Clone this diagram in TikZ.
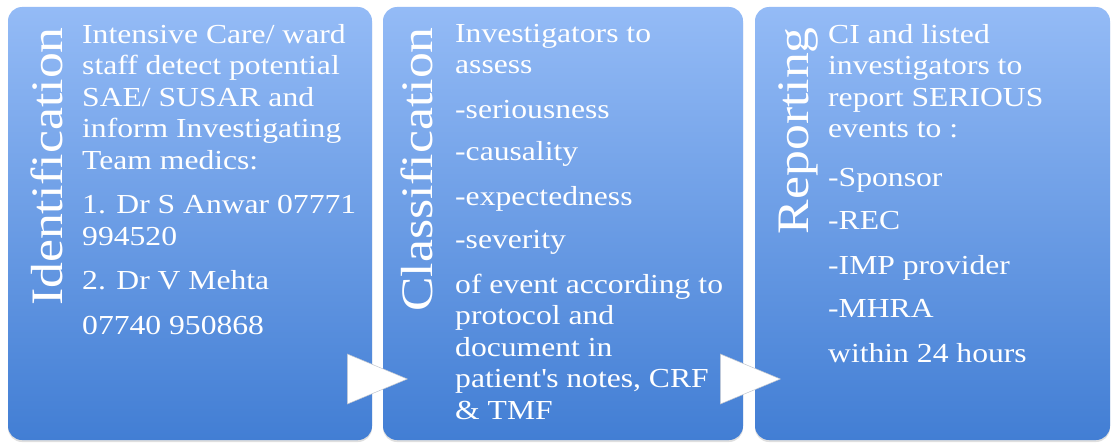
\documentclass[tikz,border=0pt]{standalone}
\usepackage{fontspec}
\setmainfont[FakeStretch=1.15]{Liberation Serif}
\usetikzlibrary{shapes.geometric,shadows}
\begin{document}
\begin{tikzpicture}[x=1pt,y=-1pt]
  \definecolor{boxtop}{RGB}{148,187,246}
  \definecolor{boxbot}{RGB}{66,126,212}
  \definecolor{arrowedge}{RGB}{190,196,206}
  \tikzset{
    stage/.style={rounded corners=14pt,top color=boxtop,bottom color=boxbot,minimum height=433pt,inner sep=0pt,
      drop shadow={shadow xshift=0pt,shadow yshift=-2pt,opacity=0.25}},
    title/.style={rotate=90,anchor=base east,inner sep=0pt,text=white,font=\fontsize{45}{54}\selectfont},
    body/.style={anchor=north west,inner sep=0pt,align=left,text=white,font=\fontsize{27.5}{31.5}\selectfont},
    chevron/.style={isosceles triangle,isosceles triangle stretches,shape border rotate=0,minimum width=50pt,
      minimum height=60pt,anchor=apex,inner sep=0pt,fill=white,draw=arrowedge,line width=0.5pt}
  }
  \useasboundingbox (0,0) rectangle (1112,444);
  \node [stage,minimum width=364pt] (id) at (190,223.5) {};
  \node [stage,minimum width=360pt] (cls) at (563,223.5) {};
  \node [stage,minimum width=355pt] (rep) at (932.5,223.5) {};
  \node [chevron] (arr1) at (408,379) {};
  \node [chevron] (arr2) at (781,379) {};
  \node [title] (idtitle) at (62,27) {Identification};
  \node [title] (clstitle) at (432,27) {Classification};
  \node [title] (reptitle) at (808,27) {Reporting};
  \node [body] (idtext) at (82,24) {Intensive Care/ ward\\staff detect potential\\SAE/ SUSAR and\\inform Investigating\\Team medics:\\[13pt]
    1. Dr S Anwar 07771\\994520\\[13pt]2. Dr V Mehta\\[13pt]07740 950868};
  \node [body] (clstext) at (455,24) {Investigators to\\assess\\[13pt]-seriousness\\[11pt]-causality\\[13pt]-expectedness\\[12pt]-severity\\[13pt]
    of event according to\\protocol and\\document in\\patient\textquotesingle s notes, CRF\\\& TMF};
  \node [body] (reptext) at (828,24) {CI and listed\\investigators to\\report SERIOUS\\events to :\\[17pt]-Sponsor\\[12pt]-REC\\[13pt]
    -IMP provider\\[12pt]-MHRA\\[13pt]within 24 hours};
\end{tikzpicture}
\end{document}
